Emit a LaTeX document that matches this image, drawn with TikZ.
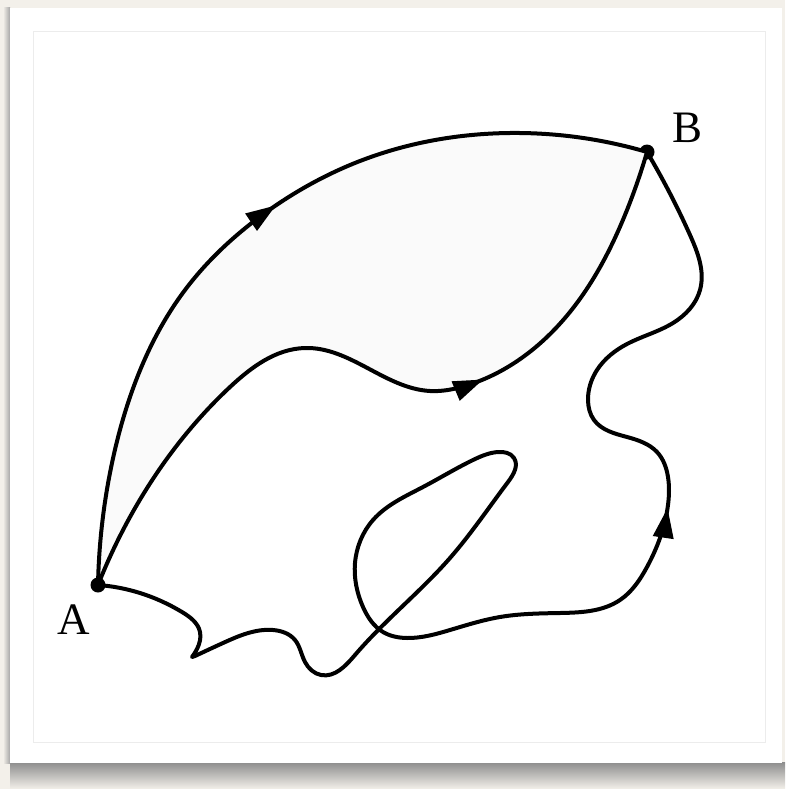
\documentclass[tikz,border=0pt]{standalone}
\usepackage{fontspec}
\setmainfont{Liberation Serif}
\usetikzlibrary{arrows.meta,decorations.markings,hobby}
\definecolor{paper}{HTML}{F3F0EA}
\definecolor{rim}{HTML}{ECECEC}
\definecolor{lens}{HTML}{FAFAFA}

\begin{document}
\begin{tikzpicture}[x=1pt,y=-1pt,use Hobby shortcut,
  way/.style={black,line width=4pt,line join=round,line cap=round},
  fwd/.style={way,decoration={markings,mark=at position #1 with {\arrow{Triangle[length=30pt,width=20pt]}}},postaction=decorate},
  dot/.style={circle,fill=black,inner sep=0pt,minimum size=15pt},
  lbl/.style={font=\fontsize{45}{54}\selectfont,inner sep=0pt}]
  \useasboundingbox (0,0) rectangle (785,789);
  % frame
  \fill[paper] (0,0) rectangle (785,789);
  \shade[top color=black!45,bottom color=paper] (10,762) rectangle (785,789);
  \shade[left color=paper,right color=black!35] (3,8) rectangle (10,763);
  \fill[white] (10,8) rectangle (782,763);
  \draw[rim,line width=1pt] (33,32) rectangle (765,742);
  % end points
  \node[dot] (A) at (98,585) {};
  \node[dot] (B) at (647,152) {};
  % region between the two upper paths
  \fill[lens] (A.center) .. (112,463) .. (130,397) .. (185,290) .. (265,213) .. (360,161)
    .. (510,133) .. (B.center) -- (B.center) .. (627,210) .. (547,337) .. (465,386) .. (430,391)
    .. (305,348) .. (230,387) .. (130,517) .. (A.center) -- cycle;
  % outer arc
  \draw[fwd=0.53] (A.center) .. (112,463) .. (130,397) .. (185,290) .. (265,213) .. (360,161)
    .. (510,133) .. (B.center);
  % middle path
  \draw[fwd=0.64] (A.center) .. (130,517) .. (230,387) .. (305,348) .. (430,391) .. (465,386)
    .. (547,337) .. (627,210) .. (B.center);
  % wiggly path with the loop
  \draw[fwd=0.725] (A.center) .. (140,593) .. (182,612) .. (200,632) .. (197,649) .. (192,657)
    -- (195,656) .. (223,643) .. (273,630) .. (295,640) .. (305,662) .. (321,675) .. (355,655)
    .. (450,558) .. (508,482) .. (514,458) .. (498,452) .. (473,460) .. (423,487)
    .. (373,520) .. (355,563) .. (363,607) .. (383,632) .. (407,638) .. (450,630) .. (500,617)
    .. (560,613) .. (620,600) .. (647,567) .. (668,505) .. (668,477) .. (657,452) .. (627,437)
    .. (594,420) .. (588,400) .. (597,370) .. (627,344) .. (673,323) .. (700,290) .. (690,235)
    .. (B.center);
  % labels
  \node[lbl] (tA) at (74,620) {A};
  \node[lbl] (tB) at (687,128) {B};
\end{tikzpicture}
\end{document}
